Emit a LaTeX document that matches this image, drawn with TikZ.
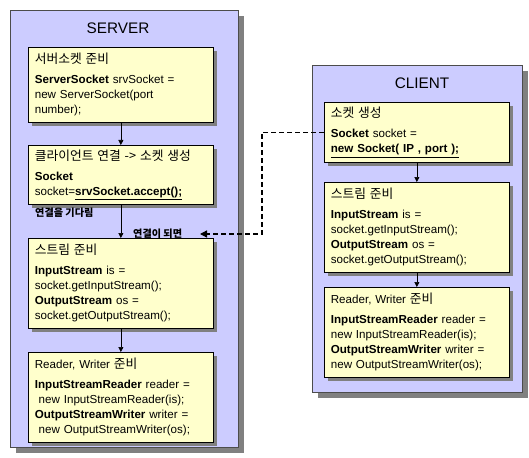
\documentclass[tikz,border=0pt]{standalone}
\usepackage{fontspec}
\setmainfont{Liberation Sans}
\newfontfamily\kr[Scale=1.1]{Noto Sans CJK KR}
\usetikzlibrary{shadows,arrows.meta}
\definecolor{panelfill}{RGB}{204,204,255}
\definecolor{boxfill}{RGB}{255,255,204}
\definecolor{shadowgray}{RGB}{128,128,128}
% Korean words are set in the CJK family
\newcommand{\ko}[1]{{\kr #1}}
\newcommand{\hdr}[1]{#1\\[5pt]}
\newcommand{\ul}[1]{\underline{\textbf{#1}}}
\tikzset{
  panel/.style={draw=black!70, line width=0.8pt, fill=panelfill, anchor=north west,
    inner sep=0pt, drop shadow={shadow xshift=6pt, shadow yshift=-6pt, fill=shadowgray, opacity=1}},
  stepbox/.style={draw=black, line width=0.7pt, fill=boxfill, anchor=north west,
    minimum width=184pt, text width=172pt, inner xsep=6.5pt, inner ysep=0pt, align=left,
    font=\fontsize{11.6}{15}\selectfont,
    drop shadow={shadow xshift=3.5pt, shadow yshift=-3.5pt, fill=shadowgray, opacity=1}},
  title/.style={font=\fontsize{15.3}{18}\selectfont},
  note/.style={font=\kr\fontsize{9.2}{12}\selectfont\bfseries, inner sep=0pt},
  flow/.style={-{Triangle[length=5pt,width=5pt]}, line width=0.6pt},
  link/.style={-{Triangle[length=7pt,width=7pt]}, line width=1.3pt, dash pattern=on 5pt off 3pt}
}
\begin{document}
\begin{tikzpicture}[x=1pt,y=-1pt]
\useasboundingbox (0,0) rectangle (529,457);
\fill[white] (0,0) rectangle (529,457);

% server side
\node[panel, minimum width=228pt, minimum height=437pt] (srv) at (10,10) {};
\node[title] (srvtitle) at (118,28) {SERVER};
\node[stepbox, minimum height=75pt] (s1) at (28,47) {\hdr{\ko{서버소켓 준비}}\textbf{ServerSocket} srvSocket =\\new ServerSocket(port\\number);};
\node[stepbox, minimum height=59pt] (s2) at (28,145) {\hdr{\ko{클라이언트 연결 -> 소켓 생성}}\textbf{Socket}\\socket=\ul{srvSocket.accept();}};
\node[stepbox, minimum height=90pt] (s3) at (28,238) {\hdr{\ko{스트림 준비}}\textbf{InputStream} is =\\socket.getInputStream();\\\textbf{OutputStream} os =\\socket.getOutputStream();};
\node[stepbox, minimum height=90pt] (s4) at (28,352) {\hdr{Reader, Writer \ko{준비}}\textbf{InputStreamReader} reader =\\\ new InputStreamReader(is);\\\textbf{OutputStreamWriter} writer =\\\ new OutputStreamWriter(os);};

% client side
\node[panel, minimum width=210pt, minimum height=327pt] (cli) at (312,65) {};
\node[title] (clititle) at (422,83) {CLIENT};
\node[stepbox, minimum height=60pt] (c1) at (324,102) {\hdr{\ko{소켓 생성}}\textbf{Socket} socket =\\\ul{new Socket( IP , port );}};
\node[stepbox, minimum height=90pt] (c2) at (324,182) {\hdr{\ko{스트림 준비}}\textbf{InputStream} is =\\socket.getInputStream();\\\textbf{OutputStream} os =\\socket.getOutputStream();};
\node[stepbox, minimum height=90pt] (c3) at (324,287) {\hdr{Reader, Writer \ko{준비}}\textbf{InputStreamReader} reader =\\new InputStreamReader(is);\\\textbf{OutputStreamWriter} writer =\\new OutputStreamWriter(os);};

% flow arrows
\draw[flow] (s1.south) -- (s2.north);
\draw[flow] (s2.south) -- (s3.north);
\draw[flow] (s3.south) -- (s4.north);
\draw[flow] (c1.south) -- (c2.north);
\draw[flow] (c2.south) -- (c3.north);

\node[note, anchor=west] (wait) at (35,213) {연결을 기다림};
\node[note, anchor=west] (done) at (133,234) {연결이 되면};

% connection request
\coordinate (req) at (200,234);
\draw[link] (c1.west) -| (262,234) -- (req);
\end{tikzpicture}
\end{document}
